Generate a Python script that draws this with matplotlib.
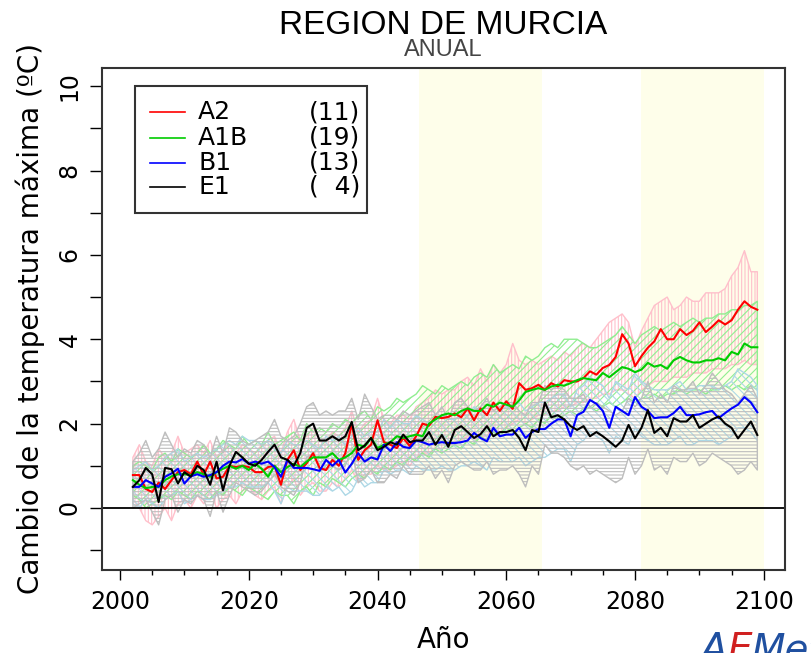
import matplotlib
matplotlib.use('Agg')
import matplotlib.pyplot as plt
from matplotlib.lines import Line2D
from matplotlib.patches import Rectangle

# años 2002..2099
years = list(range(2002, 2100))

# medias por escenario
a2 = [0.78, 0.78, 0.45, 0.38, 0.60, 0.45, 0.66, 0.85, 0.90, 0.80,
      1.10, 0.78, 1.10, 0.70, 0.74, 1.00, 0.97, 1.00, 0.97, 0.85,
      0.85, 0.97, 1.00, 0.55, 1.14, 1.37, 0.90, 1.06, 1.30, 0.95,
      0.90, 1.14, 1.00, 1.30, 2.00, 1.14, 1.37, 1.50, 2.08, 1.56,
      1.50, 1.42, 1.66, 1.47, 1.70, 2.00, 1.95, 2.16, 2.13, 2.16,
      2.24, 2.15, 2.36, 2.08, 2.36, 2.20, 2.50, 2.30, 2.53, 2.35,
      2.96, 2.80, 2.84, 2.92, 2.80, 2.96, 2.88, 3.03, 3.00, 3.00,
      3.08, 3.24, 3.16, 3.32, 3.39, 3.58, 4.12, 3.90, 3.36, 3.60,
      3.80, 3.95, 4.24, 4.00, 4.00, 4.24, 4.10, 4.20, 4.40, 4.17,
      4.30, 4.45, 4.35, 4.45, 4.70, 4.90, 4.77, 4.70]
a1b = [0.66, 0.55, 0.47, 0.50, 0.50, 0.66, 0.75, 0.80, 0.80, 0.78,
       0.85, 0.80, 0.74, 0.85, 0.93, 1.00, 0.93, 1.00, 0.90, 1.05,
       0.93, 0.74, 1.00, 0.85, 0.97, 1.05, 0.97, 1.10, 1.20, 1.20,
       1.20, 1.30, 1.14, 1.20, 1.30, 1.50, 1.45, 1.66, 1.42, 1.50,
       1.56, 1.70, 1.66, 1.70, 1.74, 1.70, 2.00, 2.10, 2.20, 2.24,
       2.20, 2.30, 2.36, 2.30, 2.30, 2.45, 2.40, 2.50, 2.45, 2.40,
       2.55, 2.75, 2.80, 2.84, 2.80, 2.88, 2.92, 2.90, 2.96, 3.03,
       3.08, 3.05, 3.03, 3.20, 3.10, 3.22, 3.34, 3.30, 3.22, 3.28,
       3.44, 3.35, 3.39, 3.30, 3.50, 3.58, 3.50, 3.45, 3.45, 3.50,
       3.50, 3.55, 3.50, 3.70, 3.64, 3.90, 3.81, 3.81]
b1 = [0.50, 0.50, 0.66, 0.58, 0.50, 0.74, 0.82, 0.93, 0.58, 0.75,
      0.80, 0.74, 0.78, 0.85, 1.00, 1.10, 1.08, 1.16, 1.05, 1.10,
      1.05, 1.10, 0.97, 0.74, 1.14, 0.95, 0.95, 0.95, 0.92, 0.88,
      1.14, 1.00, 1.14, 0.84, 1.05, 1.30, 1.10, 1.20, 1.15, 1.50,
      1.35, 1.56, 1.45, 1.42, 1.60, 1.56, 1.50, 1.54, 1.56, 1.54,
      1.54, 1.56, 1.60, 1.78, 1.66, 1.58, 1.90, 1.70, 1.74, 1.74,
      1.90, 1.66, 1.80, 1.87, 1.87, 2.00, 2.10, 2.10, 1.70, 2.20,
      2.28, 2.56, 2.47, 2.30, 1.90, 2.40, 2.30, 2.20, 2.63, 2.40,
      2.30, 2.13, 2.15, 2.15, 2.25, 2.40, 2.20, 2.20, 2.22, 2.27,
      2.30, 2.13, 2.25, 2.36, 2.45, 2.63, 2.50, 2.27]
e1 = [0.50, 0.66, 0.95, 0.80, 0.14, 0.95, 0.92, 0.58, 0.85, 0.74,
      1.00, 0.90, 0.55, 1.10, 0.42, 1.00, 1.33, 1.20, 1.05, 1.00,
      1.14, 1.33, 1.50, 1.20, 1.14, 1.00, 1.30, 1.90, 2.00, 1.60,
      1.60, 1.70, 1.60, 1.70, 2.04, 1.37, 1.48, 1.66, 1.37, 1.45,
      1.56, 1.50, 1.74, 1.56, 1.60, 1.60, 1.80, 1.50, 1.73, 1.45,
      1.85, 1.94, 1.80, 1.66, 1.75, 1.94, 1.70, 1.80, 1.80, 1.85,
      1.66, 1.37, 1.85, 1.80, 2.50, 2.15, 2.20, 2.10, 1.94, 1.85,
      1.94, 1.70, 1.80, 1.70, 1.58, 1.45, 1.60, 1.97, 1.65, 1.90,
      2.32, 1.78, 1.90, 1.70, 2.13, 2.05, 2.05, 2.20, 1.90, 2.00,
      2.10, 2.17, 2.00, 1.90, 1.65, 1.85, 2.05, 1.73]

# envolventes (minimo / maximo de los modelos)
a2_hi = [1.2, 1.5, 1.1, 1.0, 1.4, 1.2, 1.3, 1.7, 1.3, 1.4,
         1.5, 1.3, 1.6, 1.2, 1.4, 1.5, 1.3, 1.5, 1.4, 1.3,
         1.5, 1.6, 1.7, 1.3, 1.8, 2.1, 1.6, 1.7, 1.9, 1.6,
         1.6, 1.8, 1.7, 1.9, 2.3, 1.8, 2.0, 2.1, 2.6, 2.1,
         2.0, 2.2, 2.2, 2.1, 2.4, 2.5, 2.6, 2.8, 2.7, 2.8,
         2.8, 3.0, 3.1, 2.9, 3.3, 3.0, 3.4, 3.2, 3.4, 3.9,
         3.5, 3.4, 3.5, 3.4, 3.5, 3.6, 3.5, 3.7, 3.6, 3.8,
         3.9, 3.8, 4.0, 4.2, 4.4, 4.5, 4.6, 4.4, 3.8, 4.2,
         4.5, 4.8, 4.9, 5.0, 4.7, 4.8, 5.0, 4.9, 4.9, 5.1,
         5.1, 5.1, 5.2, 5.5, 5.7, 6.1, 5.6, 5.6]
a2_lo = [0.2, 0.0, -0.3, -0.4, -0.2, 0.0, -0.3, 0.1, 0.2, 0.0,
         0.3, 0.1, 0.4, 0.0, 0.2, 0.3, 0.1, 0.4, 0.5, 0.3,
         0.2, 0.4, 0.5, 0.1, 0.5, 0.7, 0.3, 0.5, 0.6, 0.4,
         0.4, 0.6, 0.5, 0.7, 0.9, 0.6, 0.8, 0.8, 1.0, 0.9,
         0.9, 1.0, 1.1, 1.0, 1.2, 1.3, 1.3, 1.4, 1.4, 1.5,
         1.5, 1.6, 1.7, 1.6, 1.7, 1.7, 1.9, 1.8, 1.9, 2.0,
         2.1, 2.0, 2.1, 2.2, 2.2, 2.3, 2.3, 2.4, 2.4, 2.5,
         2.5, 2.6, 2.6, 2.7, 2.7, 2.8, 2.8, 2.7, 2.6, 2.8,
         2.9, 3.0, 3.0, 3.0, 3.1, 3.1, 3.1, 3.2, 3.2, 3.2,
         3.3, 3.3, 3.3, 3.4, 3.4, 3.5, 3.4, 3.4]
a1b_hi = [1.0, 1.1, 1.0, 0.9, 1.2, 1.3, 1.1, 1.4, 1.3, 1.2,
          1.3, 1.5, 1.3, 1.4, 1.6, 1.5, 1.4, 1.7, 1.5, 1.6,
          1.5, 1.8, 1.5, 1.6, 1.7, 1.8, 1.6, 2.0, 1.8, 1.9,
          1.8, 2.0, 1.9, 2.1, 2.0, 2.2, 2.3, 2.1, 2.4, 2.3,
          2.4, 2.6, 2.5, 2.6, 2.7, 2.9, 2.8, 2.7, 2.9, 2.8,
          2.9, 3.0, 2.9, 3.1, 3.2, 3.1, 3.4, 3.2, 3.3, 3.4,
          3.3, 3.6, 3.5, 3.6, 3.8, 3.9, 3.8, 4.0, 4.0, 4.0,
          3.9, 3.8, 3.8, 3.9, 4.0, 4.1, 4.3, 4.1, 3.9, 4.1,
          4.2, 4.3, 4.2, 4.3, 4.4, 4.3, 4.4, 4.5, 4.4, 4.5,
          4.5, 4.6, 4.6, 4.7, 4.7, 4.8, 4.8, 4.9]
a1b_lo = [0.3, 0.2, 0.0, 0.1, 0.2, 0.3, 0.2, 0.4, 0.3, 0.2,
          0.4, 0.3, 0.2, 0.4, 0.3, 0.5, 0.4, 0.3, 0.5, 0.4,
          0.3, 0.2, 0.4, 0.3, 0.3, 0.1, 0.4, 0.5, 0.3, 0.6,
          0.5, 0.7, 0.6, 0.5, 0.7, 0.8, 0.7, 0.9, 0.8, 1.0,
          0.9, 1.1, 1.0, 1.2, 1.1, 1.3, 1.2, 1.4, 1.3, 1.4,
          1.5, 1.4, 1.6, 1.5, 1.7, 1.6, 1.8, 1.7, 1.9, 1.8,
          1.9, 2.0, 1.9, 2.1, 2.0, 2.2, 2.1, 2.2, 2.3, 2.2,
          2.3, 2.4, 2.3, 2.4, 2.5, 2.4, 2.5, 2.6, 2.5, 2.6,
          2.6, 2.7, 2.6, 2.7, 2.7, 2.8, 2.7, 2.8, 2.8, 2.7,
          2.8, 2.8, 2.9, 2.8, 2.9, 2.8, 2.9, 2.8]
b1_hi = [0.9, 1.0, 1.1, 0.9, 1.0, 1.2, 1.3, 1.4, 1.1, 1.2,
         1.3, 1.2, 1.3, 1.4, 1.5, 1.6, 1.5, 1.7, 1.6, 1.6,
         1.5, 1.6, 1.5, 1.3, 1.6, 1.5, 1.5, 1.6, 1.5, 1.4,
         1.7, 1.6, 1.7, 1.5, 1.7, 1.9, 1.7, 1.8, 1.8, 2.1,
         1.9, 2.1, 2.0, 2.0, 2.2, 2.1, 2.0, 2.1, 2.2, 2.1,
         2.1, 2.2, 2.2, 2.4, 2.3, 2.2, 2.5, 2.3, 2.4, 2.4,
         2.5, 2.3, 2.4, 2.5, 2.5, 2.6, 2.7, 2.7, 2.4, 2.8,
         2.9, 3.1, 3.0, 2.9, 2.6, 3.0, 2.9, 2.8, 3.2, 3.0,
         2.9, 2.8, 2.8, 2.8, 2.9, 3.0, 2.8, 2.8, 2.9, 2.9,
         2.9, 2.8, 2.9, 3.0, 3.3, 3.2, 3.1, 2.9]
b1_lo = [0.1, 0.0, 0.2, 0.1, 0.0, 0.2, 0.3, 0.4, 0.1, 0.2,
         0.3, 0.2, 0.2, 0.3, 0.4, 0.5, 0.5, 0.6, 0.5, 0.5,
         0.5, 0.6, 0.4, 0.1, 0.5, 0.4, 0.4, 0.4, 0.3, 0.3,
         0.5, 0.4, 0.5, 0.3, 0.4, 0.7, 0.5, 0.6, 0.6, 0.9,
         0.8, 0.9, 0.9, 0.8, 1.0, 0.9, 0.9, 0.9, 1.0, 0.9,
         0.9, 1.0, 1.0, 1.1, 1.0, 0.9, 1.2, 1.1, 1.1, 1.1,
         1.2, 1.0, 1.1, 1.2, 1.2, 1.3, 1.4, 1.4, 1.1, 1.5,
         1.6, 1.8, 1.7, 1.6, 1.3, 1.7, 1.6, 1.5, 1.9, 1.7,
         1.6, 1.5, 1.5, 1.5, 1.6, 1.7, 1.5, 1.5, 1.6, 1.6,
         1.6, 1.5, 1.6, 1.7, 1.9, 1.9, 1.8, 1.6]
e1_hi = [1.1, 1.3, 1.6, 1.2, 1.4, 1.8, 1.5, 1.2, 1.4, 1.3,
         1.6, 1.5, 1.2, 1.7, 1.3, 1.9, 1.8, 1.6, 1.5, 1.6,
         1.7, 1.8, 2.1, 1.7, 1.6, 1.7, 2.0, 2.4, 2.5, 2.2,
         2.3, 2.2, 2.3, 2.3, 2.6, 2.1, 2.7, 2.4, 2.1, 2.2,
         2.2, 2.1, 2.3, 2.2, 2.3, 2.4, 2.5, 2.2, 2.4, 2.1,
         2.5, 2.6, 2.4, 2.3, 2.4, 2.6, 2.3, 2.4, 2.5, 2.5,
         2.3, 2.2, 2.5, 2.5, 2.9, 2.8, 2.9, 2.8, 2.6, 2.6,
         2.7, 2.4, 2.5, 2.4, 2.3, 2.2, 2.3, 2.6, 2.4, 2.6,
         3.0, 2.5, 2.7, 2.5, 2.9, 2.8, 2.8, 3.0, 2.7, 2.9,
         3.2, 3.0, 2.8, 2.7, 2.5, 2.7, 2.9, 2.6]
e1_lo = [0.0, 0.1, 0.2, -0.1, -0.4, 0.2, 0.3, -0.1, 0.2, 0.1,
         0.3, 0.2, -0.2, 0.4, -0.1, 0.3, 0.6, 0.5, 0.4, 0.3,
         0.4, 0.6, 0.8, 0.5, 0.4, 0.3, 0.6, 1.2, 1.3, 0.9,
         0.9, 1.0, 0.9, 1.0, 1.4, 0.6, 0.7, 0.9, 0.6, 0.6,
         0.8, 0.7, 1.0, 0.8, 0.8, 0.8, 1.0, 0.7, 0.9, 0.6,
         1.0, 1.1, 1.0, 0.9, 0.9, 1.1, 0.8, 0.9, 0.9, 1.0,
         0.8, 0.5, 1.0, 0.8, 1.5, 1.3, 1.3, 1.2, 1.0, 0.9,
         1.0, 0.8, 0.9, 0.8, 0.7, 0.6, 0.7, 1.2, 0.8, 1.0,
         1.4, 0.9, 1.0, 0.8, 1.2, 1.1, 1.1, 1.3, 1.0, 1.1,
         1.3, 1.2, 1.1, 1.0, 0.8, 0.9, 1.1, 0.9]

scenarios = ['A2', 'A1B', 'B1', 'E1']
n_models = [11, 19, 13, 4]
means = [a2, a1b, b1, e1]
highs = [a2_hi, a1b_hi, b1_hi, e1_hi]
lows = [a2_lo, a1b_lo, b1_lo, e1_lo]
line_colors = ['#ff0000', '#00cc00', '#0000ff', '#000000']
band_colors = ['#ffc0cb', '#90ee90', '#add8e6', '#bebebe']
hatches = ['|||||', '////', '\\\\\\\\', '-----']
periods = [(2046.5, 2065.5), (2081, 2100)]

plt.rcParams['font.family'] = ['DejaVu Sans']
plt.rcParams['hatch.linewidth'] = 0.8

fig = plt.figure(figsize=(8.11, 6.53), dpi=100)
ax = fig.add_axes([102 / 811, 83 / 653, 683 / 811, 502 / 653])

for p0, p1 in periods:
    ax.axvspan(p0, p1, color='#fefeea', lw=0, zorder=0)

for lo, hi, c, h in zip(lows, highs, band_colors, hatches):
    ax.fill_between(years, lo, hi, facecolor='none', edgecolor=c,
                    hatch=h, linewidth=1.0, zorder=1)

ax.axhline(0, color='black', lw=1.3, zorder=2)

for m, c in zip(means, line_colors):
    ax.plot(years, m, color=c, lw=1.5, zorder=3)

ax.set_xlim(1997.2, 2103.3)
ax.set_ylim(-1.47, 10.43)

ax.set_xticks(range(2000, 2101, 20))
ax.set_xticks(range(2000, 2101, 5), minor=True)
ax.tick_params(axis='x', which='major', length=7.2, width=1, pad=7, labelsize=17)
ax.tick_params(axis='x', which='minor', length=3.6, width=1)
yt = list(range(-1, 11))
ax.set_yticks(yt)
ax.set_yticklabels(['' if v % 2 else str(v) for v in yt], rotation=90, va='center')
ax.tick_params(axis='y', length=8.6, width=1, pad=6, labelsize=17)

for s in ax.spines.values():
    s.set_linewidth(1.5)
    s.set_color('#333333')

ax.set_xlabel('Año', fontsize=20, labelpad=9)
ax.set_ylabel('Cambio de la temperatura máxima (ºC)', fontsize=20, labelpad=9)

fig.text(443 / 811, 1 - 25 / 653, 'REGION DE MURCIA', ha='center', va='center',
         fontsize=24, family=['Liberation Sans', 'DejaVu Sans'])
fig.text(443 / 811, 1 - 50 / 653, 'ANUAL', ha='center', va='center',
         fontsize=17, color='#444444', family=['Liberation Sans', 'DejaVu Sans'])

# leyenda
ax.add_patch(Rectangle((0.0483, 0.711), 0.3397, 0.253, transform=ax.transAxes,
                       facecolor='white', edgecolor='#333333', lw=1.5, zorder=5))
row_y = [0.912, 0.861, 0.811, 0.763]
for name, n, c, yy in zip(scenarios, n_models, line_colors, row_y):
    ax.add_line(Line2D([0.0703, 0.1215], [yy, yy], color=c, lw=1.2,
                       transform=ax.transAxes, zorder=6))
    ax.text(0.1406, yy, name, transform=ax.transAxes, fontsize=18,
            va='center', ha='left', zorder=6)
    ax.text(0.3777, yy, '(%s)' % str(n).rjust(2, '\u2007'), transform=ax.transAxes,
            fontsize=18, va='center', ha='right', zorder=6)

# logo AEMet (cortado abajo, como en el original)
fig.text(700 / 811, -8 / 653, 'A', color='#2050a0', fontsize=28, style='italic', va='baseline')
fig.text(728 / 811, -8 / 653, 'E', color='#d02020', fontsize=28, style='italic', va='baseline')
fig.text(752 / 811, -8 / 653, 'Met', color='#2050a0', fontsize=28, style='italic', va='baseline')

fig.savefig('out.png', dpi=100)
